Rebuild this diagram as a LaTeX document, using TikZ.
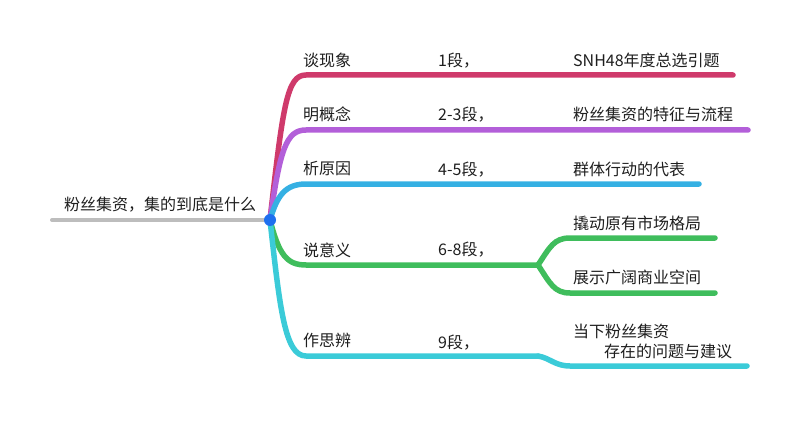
\documentclass[tikz,border=0pt]{standalone}
\usepackage{fontspec}
\setmainfont{Noto Sans CJK SC}
\definecolor{rootgray}{HTML}{BDBDBD}
\definecolor{hubblue}{HTML}{1E6FEF}
\definecolor{branchred}{HTML}{CF3A6B}
\definecolor{branchpurple}{HTML}{B35FD9}
\definecolor{branchblue}{HTML}{35B0E3}
\definecolor{branchgreen}{HTML}{3FBD5C}
\definecolor{branchcyan}{HTML}{3BCBD8}
\definecolor{textgray}{HTML}{1E1E1E}
\tikzset{
  branch/.style={line width=5.5pt, line cap=round},
  topictext/.style={anchor=west, inner sep=0pt, text=textgray,
                    font=\fontsize{16}{19}\selectfont},
}
\begin{document}
\begin{tikzpicture}[x=1pt,y=-1pt]
    \useasboundingbox (0,0) rectangle (800,441);

    % Root topic and hub
    \coordinate (rootstart) at (52,220);
    \coordinate (hub) at (270,220);
    \draw[rootgray, line width=4pt, line cap=round] (rootstart) -- (hub);
    \node[topictext] (root) at (64,205) {粉丝集资，集的到底是什么};

    % Branch ends
    \coordinate (redend)    at (733,75);
    \coordinate (purpleend) at (748,130);
    \coordinate (blueend)   at (699,184);
    \coordinate (greenfork) at (538,265);
    \coordinate (greenup)   at (715,238);
    \coordinate (greendown) at (715,293);
    \coordinate (cyanstep)  at (538,356);
    \coordinate (cyanend)   at (747,366);

    % Branches
    \draw[branch, branchred]    (hub) .. controls (283,105) and (287,75) .. (306,75) -- (redend);
    \draw[branch, branchpurple] (hub) .. controls (280,150) and (286,130) .. (306,130) -- (purpleend);
    \draw[branch, branchblue]   (hub) .. controls (277,196) and (285,184) .. (306,184) -- (blueend);
    \draw[branch, branchgreen]  (hub) .. controls (279,255) and (287,265) .. (306,265) -- (greenfork);
    \draw[branch, branchgreen]  (greenfork) .. controls (550,247) and (554,238) .. (570,238) -- (greenup);
    \draw[branch, branchgreen]  (greenfork) .. controls (550,283) and (554,293) .. (570,293) -- (greendown);
    \draw[branch, branchcyan]   (hub) .. controls (280,310) and (285,356) .. (306,356) -- (cyanstep);
    \draw[branch, branchcyan]   (cyanstep) .. controls (550,358) and (555,366) .. (570,366) -- (cyanend);
    \node[circle, fill=hubblue, inner sep=0pt, minimum size=12pt] (hubdot) at (hub) {};

    % Topic labels
    \node[topictext] (topicred)    at (303,60)  {谈现象};
    \node[topictext] (topicpurple) at (303,114) {明概念};
    \node[topictext] (topicblue)   at (303,168) {析原因};
    \node[topictext] (topicgreen)  at (303,250) {说意义};
    \node[topictext] (topiccyan)   at (303,340) {作思辨};

    % Paragraph ranges
    \node[topictext] (parared)    at (438,61)  {1段，};
    \node[topictext] (parapurple) at (438,115) {2-3段，};
    \node[topictext] (parablue)   at (438,170) {4-5段，};
    \node[topictext] (paragreen)  at (438,250) {6-8段，};
    \node[topictext] (paracyan)   at (438,343) {9段，};

    % Details
    \node[topictext] (detailred)    at (573,60)  {SNH48年度总选引题};
    \node[topictext] (detailpurple) at (573,114) {粉丝集资的特征与流程};
    \node[topictext] (detailblue)   at (573,169) {群体行动的代表};
    \node[topictext] (detailup)     at (573,223) {撬动原有市场格局};
    \node[topictext] (detaildown)   at (573,277) {展示广阔商业空间};
    \node[topictext] (detailcyana)  at (573,331) {当下粉丝集资};
    \node[topictext] (detailcyanb)  at (604,351) {存在的问题与建议};
\end{tikzpicture}
\end{document}
